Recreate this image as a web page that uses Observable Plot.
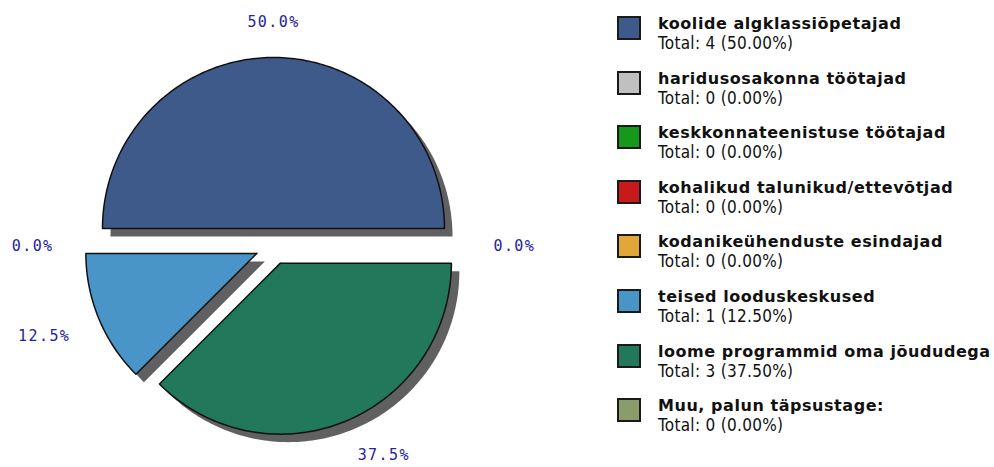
<!DOCTYPE html>
<html>
<head>
<meta charset="utf-8">
<script src="https://cdn.jsdelivr.net/npm/d3@7"></script>
<script src="https://cdn.jsdelivr.net/npm/@observablehq/plot@0.6"></script>
<style>
  html, body { margin: 0; padding: 0; background: #fff; }
  #wrap { position: relative; width: 994px; height: 467px; overflow: hidden; }
  #legend { position: absolute; left: 617px; top: 16px; }
  .item { position: absolute; left: 0; width: 380px; height: 50px; }
  .sw { position: absolute; left: 0; top: 0; width: 20px; height: 20px; border: 2px solid #1a1a1a; }
  .nm { position: absolute; left: 41px; top: 0px; line-height: 16px; font: bold 16px/16px "DejaVu Sans", sans-serif; color: #111; white-space: nowrap; letter-spacing: 0.55px; }
  .tt { position: absolute; left: 41px; top: 18px; font: 17px/19px "DejaVu Sans Condensed", "DejaVu Sans", sans-serif; color: #111; white-space: nowrap; letter-spacing: 0.3px; }
</style>
</head>
<body>
<div id="wrap"><div id="chart"></div><div id="legend"></div></div>
<script>
const categories = [
  "koolide algklassiõpetajad",
  "haridusosakonna töötajad",
  "keskkonnateenistuse töötajad",
  "kohalikud talunikud/ettevõtjad",
  "kodanikeühenduste esindajad",
  "teised looduskeskused",
  "loome programmid oma jõududega",
  "Muu, palun täpsustage:"
];
const counts = [4, 0, 0, 0, 0, 1, 3, 0];
const colors = ["#3e5a8a", "#c0c0c0", "#16991a", "#c81a1a", "#e3a63a", "#4a95c8", "#22785a", "#8a9c6a"];

const W = 994, H = 467;
const CX = 273, CY = 246;     // pie centre in pixels
const R = 171, EXPLODE = 18, SHADOW = 8, LABEL_R = 220;

const total = d3.sum(counts);
let acc = 0;
const slices = counts.map((v, i) => {
  const a0 = acc / total * 2 * Math.PI;
  acc += v;
  const a1 = acc / total * 2 * Math.PI;
  return {i, name: categories[i], value: v, a0, a1, mid: (a0 + a1) / 2, pct: v / total * 100};
});

// polygon points for each non-empty slice (math orientation: counter-clockwise from east)
const pts = [];
const shadowPts = [];
for (const s of slices) {
  if (s.value === 0) continue;
  const ox = EXPLODE * Math.cos(s.mid), oy = EXPLODE * Math.sin(s.mid);
  const n = Math.max(8, Math.ceil((s.a1 - s.a0) / (Math.PI / 180)));
  const ring = [[ox, oy]];
  for (let k = 0; k <= n; k++) {
    const a = s.a0 + (s.a1 - s.a0) * k / n;
    ring.push([ox + R * Math.cos(a), oy + R * Math.sin(a)]);
  }
  ring.push([ox, oy]);
  ring.forEach(([x, y], j) => {
    pts.push({slice: s.i, j, x, y});
    shadowPts.push({slice: s.i, j, x: x + SHADOW, y: y - SHADOW});
  });
}

// labels (identical labels at identical spots drawn once)
const seen = new Set();
const labels = [];
for (const s of slices) {
  const c = Math.cos(s.mid), sn = Math.sin(s.mid);
  const ta = c > 0.15 ? "start" : c < -0.15 ? "end" : "middle";
  const la = sn > 0.15 ? "bottom" : sn < -0.15 ? "top" : "middle";
  const text = s.pct.toFixed(1) + "%";
  const id = text + "@" + s.mid.toFixed(4);
  if (seen.has(id)) continue;
  seen.add(id);
  labels.push({x: LABEL_R * c, y: LABEL_R * sn, text, key: ta + "|" + la, ta, la});
}
const labelGroups = d3.groups(labels, d => d.key);

const marks = [
  Plot.line(shadowPts, {x: "x", y: "y", z: "slice", fill: "#606060", stroke: "none", curve: "linear"}),
  Plot.line(pts, {x: "x", y: "y", z: "slice", fill: d => colors[d.slice], stroke: "#111", strokeWidth: 1.5, curve: "linear"}),
  ...labelGroups.map(([k, g]) => Plot.text(g, {
    x: "x", y: "y", text: "text",
    textAnchor: g[0].ta, lineAnchor: g[0].la,
    fill: "#23239e", fontSize: 15, fontFamily: "DejaVu Sans Mono, monospace"
  }))
];

const chart = Plot.plot({
  width: W, height: H,
  margin: 0,
  x: {domain: [-CX, W - CX], axis: null},
  y: {domain: [-(H - CY), CY], axis: null},
  style: {background: "white", overflow: "visible"},
  marks
});
chart.querySelectorAll("text").forEach(t => t.style.letterSpacing = "1.4px");
document.getElementById("chart").appendChild(chart);

// legend
const legend = document.getElementById("legend");
categories.forEach((name, i) => {
  const item = document.createElement("div");
  item.className = "item";
  item.style.top = (i * 54.6) + "px";
  const sw = document.createElement("div");
  sw.className = "sw";
  sw.style.background = colors[i];
  const nm = document.createElement("div");
  nm.className = "nm";
  nm.textContent = name;
  const tt = document.createElement("div");
  tt.className = "tt";
  tt.textContent = `Total: ${counts[i]} (${(counts[i] / total * 100).toFixed(2)}%)`;
  item.append(sw, nm, tt);
  legend.appendChild(item);
});
</script>
</body>
</html>
